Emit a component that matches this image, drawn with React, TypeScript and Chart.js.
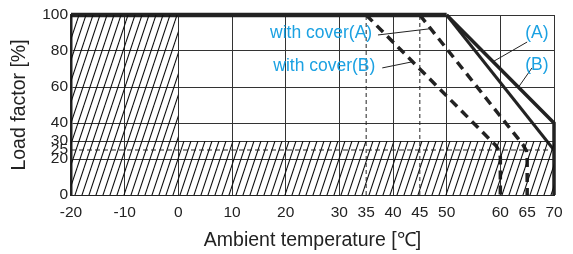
import { useEffect, useRef } from "react";
import { Chart, registerables } from "chart.js";
Chart.register(...registerables);

const xTicks = [-20, -10, 0, 10, 20, 30, 35, 40, 45, 50, 60, 65, 70];
const yTicks = [0, 20, 25, 30, 40, 60, 80, 100];
const solidXGrid = [-10, 0, 10, 20, 30, 40, 50, 60, 70];
const solidYGrid = [20, 30, 40, 60, 80, 100];

const ratedTop = [{ x: -20, y: 100 }, { x: 50, y: 100 }];
const curveA = [{ x: 50, y: 100 }, { x: 70, y: 25 }];
const curveB = [{ x: 50, y: 100 }, { x: 70, y: 40 }, { x: 70, y: 0 }];
const coverA = [{ x: 45, y: 100 }, { x: 64.2, y: 28 }, { x: 64.85, y: 24.5 }, { x: 65, y: 21 }, { x: 65, y: 0 }];
const coverB = [{ x: 35, y: 100 }, { x: 59.2, y: 27.4 }, { x: 59.85, y: 24 }, { x: 60, y: 21 }, { x: 60, y: 0 }];
const hatchArea = [{ x: -20, y: 100 }, { x: 0, y: 100 }, { x: 0, y: 30 }, { x: 70, y: 30 }];
const refV35 = [{ x: 35, y: 0 }, { x: 35, y: 100 }];
const refV45 = [{ x: 45, y: 0 }, { x: 45, y: 100 }];
const ref25 = [{ x: -20, y: 25 }, { x: 70, y: 25 }];

const labelTexts = ["with cover(A)", "with cover(B)", "(A)", "(B)"];
const labelX = [26.6, 27.2, 66.8, 66.8];
const labelY = [90, 71.7, 90, 72.2];

const leaderCoverA = [{ x: 37.2, y: 88.9 }, { x: 47, y: 92.4 }];
const leaderCoverB = [{ x: 38.0, y: 70.6 }, { x: 43.6, y: 74.0 }];
const leaderA = [{ x: 65, y: 85 }, { x: 58.6, y: 74 }];
const leaderB = [{ x: 65.9, y: 70.6 }, { x: 63.4, y: 60 }];

const FONT = "'Liberation Sans', Arial, sans-serif";
const INK = "#222222";
const CYAN = "#1ba1e2";

function makeHatch(): CanvasPattern | string {
  const c = document.createElement("canvas");
  c.width = 7;
  c.height = 21;
  const g = c.getContext("2d");
  if (!g) return "transparent";
  g.strokeStyle = "#111";
  g.lineWidth = 1.1;
  for (const off of [-7, 0, 7]) {
    g.beginPath();
    g.moveTo(off, 21);
    g.lineTo(off + 7, 0);
    g.stroke();
  }
  return g.createPattern(c, "repeat") || "transparent";
}

const labelPlugin = {
  id: "labels",
  afterDatasetsDraw(chart: any) {
    const { ctx, scales } = chart;
    ctx.save();
    ctx.font = `17.5px ${FONT}`;
    ctx.fillStyle = CYAN;
    ctx.textAlign = "center";
    ctx.textBaseline = "middle";
    labelTexts.forEach((t, i) => {
      ctx.fillText(t, scales.x.getPixelForValue(labelX[i]), scales.y.getPixelForValue(labelY[i]));
    });
    ctx.restore();
  },
};

export default function App() {
  const ref = useRef<HTMLCanvasElement>(null);
  useEffect(() => {
    if (!ref.current) return;
    const hatch = makeHatch();
    const line = (data: any[], width: number, dash: number[] = [], extra: any = {}) => ({
      data,
      borderColor: INK,
      borderWidth: width,
      borderDash: dash,
      pointRadius: 0,
      showLine: true,
      fill: false,
      tension: 0,
      clip: false,
      ...extra,
    });
    const chart = new Chart(ref.current, {
      type: "scatter",
      data: {
        datasets: [
          line(hatchArea, 0, [], { fill: "origin", backgroundColor: hatch, clip: 0 }),
          line(refV35, 1, [4, 3]),
          line(refV45, 1, [4, 3]),
          line(ref25, 1, [5, 3]),
          line(leaderCoverA, 1),
          line(leaderCoverB, 1),
          line(leaderA, 1),
          line(leaderB, 1),
          line(coverA, 3.5, [9, 6]),
          line(coverB, 3.5, [9, 6]),
          line(curveA, 3),
          line(curveB, 3.5),
          line(ratedTop, 4.5),
        ] as any,
      },
      options: {
        animation: false,
        responsive: false,
        maintainAspectRatio: false,
        layout: { padding: { left: 0, right: 19, top: 15, bottom: 0 } },
        plugins: { legend: { display: false }, tooltip: { enabled: false } },
        scales: {
          x: {
            type: "linear",
            min: -20,
            max: 70,
            afterBuildTicks: (s: any) => {
              s.ticks = xTicks.map((v) => ({ value: v }));
            },
            afterFit: (s: any) => {
              s.height = 59;
            },
            ticks: {
              autoSkip: false,
              maxRotation: 0,
              padding: 8,
              color: INK,
              font: { family: FONT, size: 15.5 },
            },
            grid: {
              drawTicks: false,
              color: (c: any) => (solidXGrid.includes(c.tick?.value) ? "#333" : "transparent"),
              lineWidth: 1,
            },
            border: { display: true, color: INK, width: 1 },
            title: {
              display: true,
              text: "Ambient temperature [℃]",
              color: INK,
              font: { family: FONT, size: 19.5 },
              padding: { top: 0, bottom: 2 },
            },
          },
          y: {
            type: "linear",
            min: 0,
            max: 100,
            afterBuildTicks: (s: any) => {
              s.ticks = yTicks.map((v) => ({ value: v }));
            },
            afterFit: (s: any) => {
              s.width = 71;
            },
            ticks: {
              autoSkip: false,
              padding: 3,
              color: INK,
              font: { family: FONT, size: 15.5 },
            },
            grid: {
              drawTicks: false,
              color: (c: any) => (solidYGrid.includes(c.tick?.value) ? "#333" : "transparent"),
              lineWidth: 1,
            },
            border: { display: true, color: INK, width: 2.5 },
            title: {
              display: true,
              text: "Load factor [%]",
              color: INK,
              font: { family: FONT, size: 19.5 },
              padding: { top: 8, bottom: 0 },
            },
          },
        },
      },
      plugins: [labelPlugin],
    });
    return () => chart.destroy();
  }, []);
  return (
    <div style={{ position: "fixed", left: 0, top: 0, width: 573, height: 254, background: "#fff" }}>
      <canvas ref={ref} width={573} height={254} style={{ width: 573, height: 254, display: "block" }} />
    </div>
  );
}
